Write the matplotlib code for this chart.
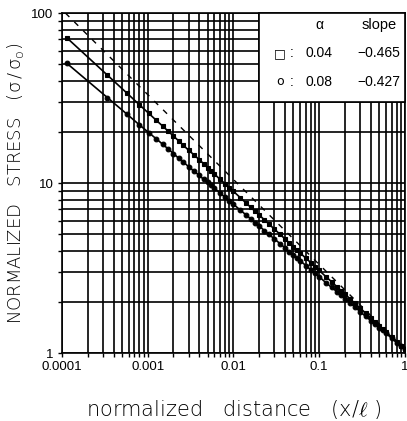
#!/usr/bin/env python3
"""Normalized stress vs normalized distance, log-log, two alpha cases."""

import matplotlib
matplotlib.use('Agg')
import matplotlib.pyplot as plt
from matplotlib import rcParams
from matplotlib.patches import Rectangle

rcParams['font.family'] = ['Liberation Sans', 'DejaVu Sans']
rcParams['mathtext.fontset'] = 'custom'
rcParams['mathtext.rm'] = 'DejaVu Sans:light'
rcParams['mathtext.it'] = 'DejaVu Sans:light'

# node positions (x/l)
x_nodes = [1.15e-4, 3.4e-4, 5.7e-4, 8.0e-4, 1.03e-3, 1.26e-3, 1.5e-3, 1.75e-3,
           2.0e-3, 2.3e-3, 2.6e-3, 3.0e-3, 3.5e-3, 4e-3, 4.5e-3, 5e-3, 5.5e-3,
           6e-3, 7e-3, 8e-3, 9e-3, 0.01, 0.012, 0.014, 0.016, 0.018, 0.02,
           0.023, 0.026, 0.03, 0.035, 0.04, 0.045, 0.05, 0.055, 0.06, 0.07,
           0.08, 0.09, 0.1, 0.12, 0.14, 0.16, 0.18, 0.2, 0.23, 0.26, 0.3,
           0.35, 0.4, 0.45, 0.5, 0.55, 0.6, 0.7, 0.8, 0.9, 1.0]

# alpha = 0.04 (squares)
stress_a004 = [71.3, 43.1, 33.9, 28.9, 25.7, 23.4, 21.6, 20.1, 18.9, 17.7,
               16.7, 15.6, 14.6, 13.7, 13.0, 12.3, 11.8, 11.3, 10.5, 9.91,
               9.38, 8.94, 8.21, 7.64, 7.18, 6.80, 6.48, 6.07, 5.73, 5.36,
               4.99, 4.69, 4.44, 4.23, 4.05, 3.88, 3.61, 3.40, 3.22, 3.06,
               2.81, 2.62, 2.46, 2.33, 2.22, 2.08, 1.96, 1.84, 1.71, 1.61,
               1.52, 1.45, 1.39, 1.33, 1.24, 1.16, 1.10, 1.05]

# alpha = 0.08 (circles)
stress_a008 = [50.5, 31.8, 25.5, 22.0, 19.8, 18.2, 16.9, 15.8, 14.9, 14.0,
               13.3, 12.5, 11.7, 11.1, 10.5, 10.1, 9.68, 9.33, 8.73, 8.25,
               7.85, 7.50, 6.94, 6.50, 6.14, 5.84, 5.58, 5.25, 4.99, 4.69,
               4.40, 4.15, 3.94, 3.78, 3.62, 3.49, 3.27, 3.08, 2.94, 2.81,
               2.59, 2.43, 2.30, 2.18, 2.09, 1.96, 1.87, 1.75, 1.64, 1.55,
               1.48, 1.41, 1.36, 1.31, 1.22, 1.15, 1.10, 1.05]

# reference slope -1/2 (dashed)
x_ref = [1.1e-4, 1.0]
stress_ref = [100.0, 1.05]

x_ticks = [1e-4, 1e-3, 1e-2, 1e-1, 1]
x_ticklabels = ['0.0001', '0.001', '0.01', '0.1', '1']
y_ticks = [1, 10, 100]
y_ticklabels = ['1', '10', '100']

legend_alpha = ['0.04', '0.08']
legend_slope = ['\u22120.465', '\u22120.427']


def main():
    fig = plt.figure(figsize=(4.07, 4.21), dpi=100)
    ax = fig.add_axes([0.152, 0.1615, 0.843, 0.8075])

    ax.set_xscale('log')
    ax.set_yscale('log')
    ax.set_xlim(1e-4, 1)
    ax.set_ylim(1, 100)

    ax.set_axisbelow(True)
    ax.grid(True, which='both', color='black', linewidth=1.2)

    ax.plot(x_ref, stress_ref, color='black', lw=1.0, dashes=(4, 5), zorder=3)
    ax.plot(x_nodes, stress_a004, color='black', lw=1.2, marker='s',
            markersize=3.2, markerfacecolor='black', markeredgewidth=0.8, zorder=4)
    ax.plot(x_nodes, stress_a008, color='black', lw=1.2, marker='o',
            markersize=3.4, markerfacecolor='black', markeredgewidth=0.8, zorder=4)

    # white legend panel in the upper right corner
    ax.add_patch(Rectangle((0.02, 30), 1 - 0.02, 100 - 30, facecolor='white',
                           edgecolor='black', lw=1.2, zorder=5, clip_on=False))
    ax.text(0.1, 85, '\u03b1', ha='center', va='center', fontsize=10, zorder=6)
    ax.text(0.5, 85, 'slope', ha='center', va='center', fontsize=10.5, zorder=6)
    row_y = [58, 39.5]
    symbols = ['\u25a1', 'o']
    for sym, a, s, y in zip(symbols, legend_alpha, legend_slope, row_y):
        ax.text(0.035, y, sym, ha='center', va='center', fontsize=9,
                family=['DejaVu Sans'], zorder=6)
        ax.text(0.048, y, ':', ha='center', va='center', fontsize=10, zorder=6)
        ax.text(0.1, y, a, ha='center', va='center', fontsize=10, zorder=6)
        ax.text(0.5, y, s, ha='center', va='center', fontsize=10, zorder=6)

    ax.set_xticks(x_ticks)
    ax.set_xticklabels(x_ticklabels)
    ax.set_yticks(y_ticks)
    ax.set_yticklabels(y_ticklabels)
    ax.tick_params(which='both', direction='out', length=3, width=1,
                   labelsize=9.5, pad=3)
    for sp in ax.spines.values():
        sp.set_linewidth(1.2)

    ax.set_xlabel(r'normalized   distance   (x/$\ell$ )', fontsize=15,
                  family=['DejaVu Sans', 'Noto Sans'], fontweight='light',
                  color='black', labelpad=18)
    ax.set_ylabel(r'NORMALIZED   STRESS   ($\mathregular{\sigma\,/\,\sigma_o}$)',
                  fontsize=13, family=['DejaVu Sans'], fontweight='light',
                  color='black', labelpad=4)

    fig.savefig('out.png', dpi=100)
    plt.close(fig)


if __name__ == '__main__':
    main()
